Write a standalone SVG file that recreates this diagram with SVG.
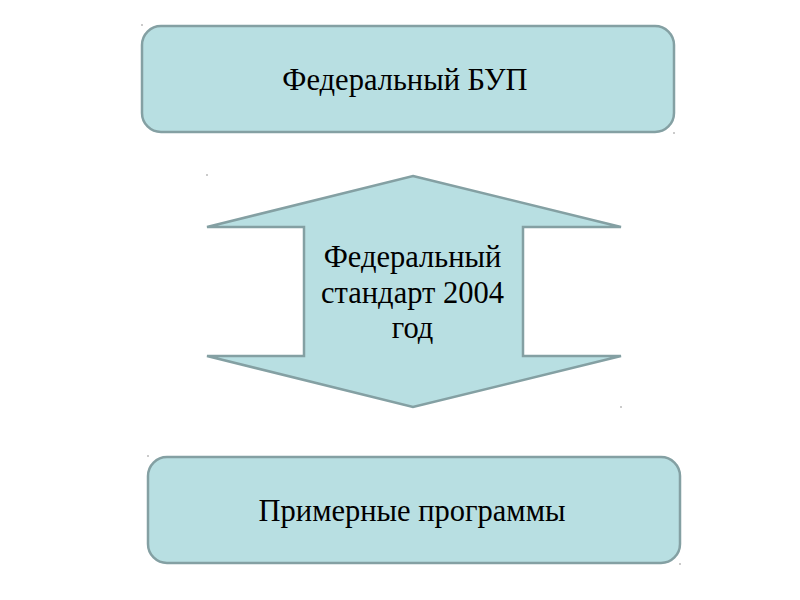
<svg xmlns="http://www.w3.org/2000/svg" width="800" height="600" viewBox="0 0 800 600">
<style>
.shape{fill:#b8dfe2;stroke:#84a0a3;stroke-width:2.5}
.t{font-family:"Liberation Serif","Times New Roman",serif;font-size:30.5px;fill:#000;text-anchor:middle}
.dot{fill:#888}
</style>
<rect width="800" height="600" fill="#fff"/>
<g id="federal-bup">
<rect class="shape" x="142" y="26" width="532" height="106" rx="19"/>
<text class="t" x="405" y="89.5">Федеральный БУП</text>
</g>
<g id="connectors">
<g id="standard-2004">
<polygon class="shape" points="413,176 621,227 523,227 523,356 621,356 413,407 207,356 304,356 304,227 207,227"/>
<text class="t" x="412.5" y="267">Федеральный</text>
<text class="t" x="412.5" y="302.5">стандарт 2004</text>
<text class="t" x="412.5" y="338">год</text>
</g>
</g>
<g id="sample-programs">
<rect class="shape" x="148" y="457" width="532" height="106" rx="19"/>
<text class="t" x="412" y="521">Примерные программы</text>
</g>
<g id="dots">
<circle class="dot" cx="142" cy="25" r="0.8"/>
<circle class="dot" cx="674" cy="133" r="0.8"/>
<circle class="dot" cx="207" cy="175" r="0.8"/>
<circle class="dot" cx="621" cy="407" r="0.8"/>
<circle class="dot" cx="148" cy="456" r="0.8"/>
<circle class="dot" cx="680" cy="564" r="0.8"/>
</g>
</svg>
